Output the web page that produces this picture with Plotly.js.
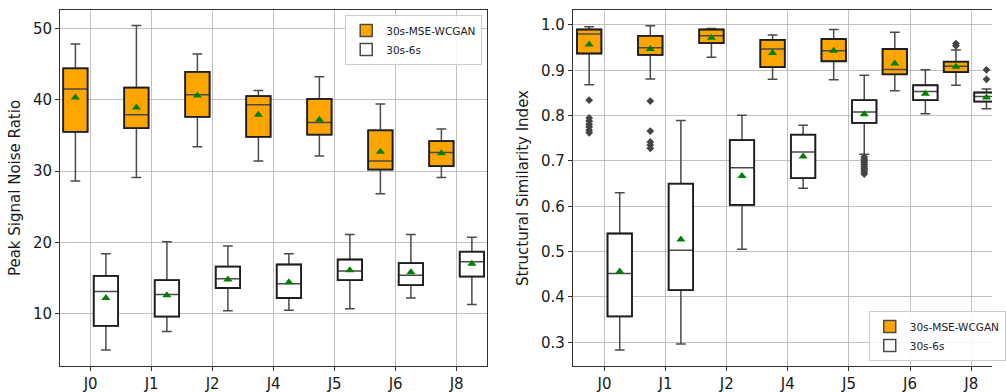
<!DOCTYPE html>
<html>
<head>
<meta charset="utf-8">
<script src="https://cdn.plot.ly/plotly-3.0.1.min.js"></script>
<style>html,body{margin:0;padding:0;background:#fff}#chart{width:1006px;height:392px}</style>
</head>
<body>
<div id="chart"></div>
<script>
// ---- data ----
const categories = ["J0", "J1", "J2", "J4", "J5", "J6", "J8"];
const seriesNames = ["30s-MSE-WCGAN", "30s-6s"];

// PSNR, 30s-MSE-WCGAN
const psnrGanLow    = [28.6, 29.1, 33.4, 31.4, 32.1, 26.8, 29.1];
const psnrGanQ1     = [35.5, 36.0, 37.6, 34.8, 35.1, 30.2, 30.7];
const psnrGanMedian = [41.5, 37.9, 40.7, 39.3, 36.8, 31.4, 32.6];
const psnrGanQ3     = [44.4, 41.7, 43.9, 40.5, 40.1, 35.7, 34.2];
const psnrGanHigh   = [47.8, 50.4, 46.4, 41.3, 43.2, 39.4, 35.9];
const psnrGanMean   = [40.3, 38.9, 40.6, 37.9, 37.2, 32.7, 32.5];
// PSNR, 30s-6s
const psnrBaseLow    = [4.9, 7.5, 10.4, 10.5, 10.7, 12.2, 11.3];
const psnrBaseQ1     = [8.3, 9.6, 13.6, 12.2, 14.7, 14.0, 15.2];
const psnrBaseMedian = [13.1, 12.7, 14.9, 14.2, 16.0, 15.4, 17.3];
const psnrBaseQ3     = [15.3, 14.7, 16.6, 16.9, 17.6, 17.1, 18.7];
const psnrBaseHigh   = [18.4, 20.1, 19.5, 18.4, 21.1, 21.1, 20.7];
const psnrBaseMean   = [12.2, 12.6, 14.8, 14.4, 16.1, 15.8, 17.0];

// SSIM, 30s-MSE-WCGAN
const ssimGanLow    = [0.868, 0.881, 0.929, 0.880, 0.879, 0.855, 0.867];
const ssimGanQ1     = [0.937, 0.934, 0.960, 0.907, 0.920, 0.891, 0.896];
const ssimGanMedian = [0.980, 0.950, 0.976, 0.947, 0.943, 0.902, 0.909];
const ssimGanQ3     = [0.990, 0.976, 0.990, 0.967, 0.969, 0.947, 0.919];
const ssimGanHigh   = [0.996, 0.998, 0.992, 0.978, 0.990, 0.984, 0.945];
const ssimGanMean   = [0.957, 0.947, 0.972, 0.938, 0.943, 0.915, 0.908];
const ssimGanOutliers = [
  [0.834, 0.795, 0.788, 0.781, 0.775, 0.768, 0.762],
  [0.832, 0.766, 0.742, 0.735, 0.728],
  [], [], [], [],
  [0.959, 0.954]
];
// SSIM, 30s-6s
const ssimBaseLow    = [0.283, 0.296, 0.505, 0.640, 0.715, 0.804, 0.815];
const ssimBaseQ1     = [0.357, 0.415, 0.603, 0.662, 0.784, 0.834, 0.831];
const ssimBaseMedian = [0.452, 0.503, 0.685, 0.720, 0.808, 0.853, 0.842];
const ssimBaseQ3     = [0.540, 0.650, 0.746, 0.758, 0.834, 0.867, 0.851];
const ssimBaseHigh   = [0.630, 0.789, 0.801, 0.779, 0.889, 0.901, 0.859];
const ssimBaseMean   = [0.456, 0.527, 0.667, 0.710, 0.803, 0.848, 0.840];
const ssimBaseOutliers = [
  [], [], [], [],
  [0.709, 0.704, 0.700, 0.696, 0.692, 0.688, 0.684, 0.680, 0.676, 0.671],
  [],
  [0.901, 0.880]
];

// ---- styling ----
const ORANGE = "#FFA500";
const WHISK = "#4a4a4a";
const EDGE = "#1e1e1e";
const GREEN = "#008000";
const FONT = "DejaVu Sans";
const OFFSET = 0.25, BOXW = 0.4;

const posGan = categories.map((_, i) => i - OFFSET);
const posBase = categories.map((_, i) => i + OFFSET);

function boxTrace(pos, low, q1, med, q3, high, fill, name, xa, ya, legend) {
  return {
    type: "box", name: name, x: pos, q1: q1, median: med, q3: q3,
    lowerfence: low, upperfence: high, width: BOXW, whiskerwidth: 0.4,
    fillcolor: fill, line: {color: WHISK, width: 1.5}, boxpoints: false,
    xaxis: xa, yaxis: ya, legend: legend, showlegend: true, hoverinfo: "skip"
  };
}
// dark outline of each box, drawn on the data axes from the quartile arrays
function edgeShapes(pos, q1, q3, xa, ya) {
  return pos.map((p, i) => ({
    type: "rect", xref: xa, yref: ya, x0: p - BOXW / 2, x1: p + BOXW / 2,
    y0: q1[i], y1: q3[i], line: {color: EDGE, width: 1.8}, fillcolor: "rgba(0,0,0,0)", layer: "above"
  }));
}
function meanTrace(pos, vals, xa, ya) {
  return {type: "scatter", mode: "markers", x: pos, y: vals, xaxis: xa, yaxis: ya,
    marker: {symbol: "triangle-up", color: GREEN, size: 8}, showlegend: false, hoverinfo: "skip"};
}
function outlierTrace(pos, lists, xa, ya) {
  const xs = [], ys = [];
  lists.forEach((arr, i) => arr.forEach(v => { xs.push(pos[i]); ys.push(v); }));
  return {type: "scatter", mode: "markers", x: xs, y: ys, xaxis: xa, yaxis: ya,
    marker: {symbol: "diamond", color: "#444", size: 6}, showlegend: false, hoverinfo: "skip"};
}

const traces = [
  boxTrace(posGan, psnrGanLow, psnrGanQ1, psnrGanMedian, psnrGanQ3, psnrGanHigh, ORANGE, seriesNames[0], "x", "y", "legend"),
  boxTrace(posBase, psnrBaseLow, psnrBaseQ1, psnrBaseMedian, psnrBaseQ3, psnrBaseHigh, "#ffffff", seriesNames[1], "x", "y", "legend"),
  meanTrace(posGan, psnrGanMean, "x", "y"), meanTrace(posBase, psnrBaseMean, "x", "y"),
  boxTrace(posGan, ssimGanLow, ssimGanQ1, ssimGanMedian, ssimGanQ3, ssimGanHigh, ORANGE, seriesNames[0], "x2", "y2", "legend2"),
  boxTrace(posBase, ssimBaseLow, ssimBaseQ1, ssimBaseMedian, ssimBaseQ3, ssimBaseHigh, "#ffffff", seriesNames[1], "x2", "y2", "legend2"),
  outlierTrace(posGan, ssimGanOutliers, "x2", "y2"), outlierTrace(posBase, ssimBaseOutliers, "x2", "y2"),
  meanTrace(posGan, ssimGanMean, "x2", "y2"), meanTrace(posBase, ssimBaseMean, "x2", "y2")
];

const shapes = [].concat(
  edgeShapes(posGan, psnrGanQ1, psnrGanQ3, "x", "y"),
  edgeShapes(posBase, psnrBaseQ1, psnrBaseQ3, "x", "y"),
  edgeShapes(posGan, ssimGanQ1, ssimGanQ3, "x2", "y2"),
  edgeShapes(posBase, ssimBaseQ1, ssimBaseQ3, "x2", "y2")
);

const tickIdx = categories.map((_, i) => i);
const common = {
  showline: true, linecolor: "#333", linewidth: 1, ticks: "outside", ticklen: 4,
  tickcolor: "#333", tickwidth: 1, showgrid: true, gridcolor: "#b0b0b0", gridwidth: 0.8,
  zeroline: false, tickfont: {family: FONT, size: 15, color: "#1a1a1a"}, automargin: false
};
const legendStyle = {
  font: {family: FONT, size: 10.5, color: "#222"}, bgcolor: "rgba(255,255,255,0.85)",
  bordercolor: "#cccccc", borderwidth: 1, itemwidth: 30, tracegroupgap: 0
};

const layout = {
  width: 1006, height: 392,
  margin: {l: 0, r: 0, t: 10, b: 26},
  paper_bgcolor: "#fff", plot_bgcolor: "#fff",
  boxmode: "overlay",
  font: {family: FONT, color: "#1a1a1a"},
  xaxis: Object.assign({}, common, {domain: [61/1006, 494/1006], range: [-0.5, 6.5],
    tickvals: tickIdx, ticktext: categories, mirror: true, anchor: "y"}),
  yaxis: Object.assign({}, common, {range: [2.67, 52.57], tickvals: [10, 20, 30, 40, 50],
    mirror: true, anchor: "x",
    title: {text: "Peak Signal Noise Ratio", font: {family: FONT, size: 15, color: "#1a1a1a"}, standoff: 8}}),
  xaxis2: Object.assign({}, common, {domain: [581/1006, 1], range: [-0.516, 6.34],
    tickvals: tickIdx, ticktext: categories, mirror: true, anchor: "y2"}),
  yaxis2: Object.assign({}, common, {range: [0.2477, 1.033], tickvals: [0.3,0.4,0.5,0.6,0.7,0.8,0.9,1.0],
    tickformat: ".1f", mirror: false, anchor: "x2",
    title: {text: "Structural Similarity Index", font: {family: FONT, size: 15, color: "#1a1a1a"}, standoff: 8}}),
  shapes: shapes,
  showlegend: true,
  legend: Object.assign({}, legendStyle, {x: 489/1006, xanchor: "right", y: 0.986, yanchor: "top"}),
  legend2: Object.assign({}, legendStyle, {x: 881/1006, xanchor: "left", y: 0.014, yanchor: "bottom"})
};

Plotly.newPlot("chart", traces, layout, {displayModeBar: false, staticPlot: true});
</script>
</body>
</html>
